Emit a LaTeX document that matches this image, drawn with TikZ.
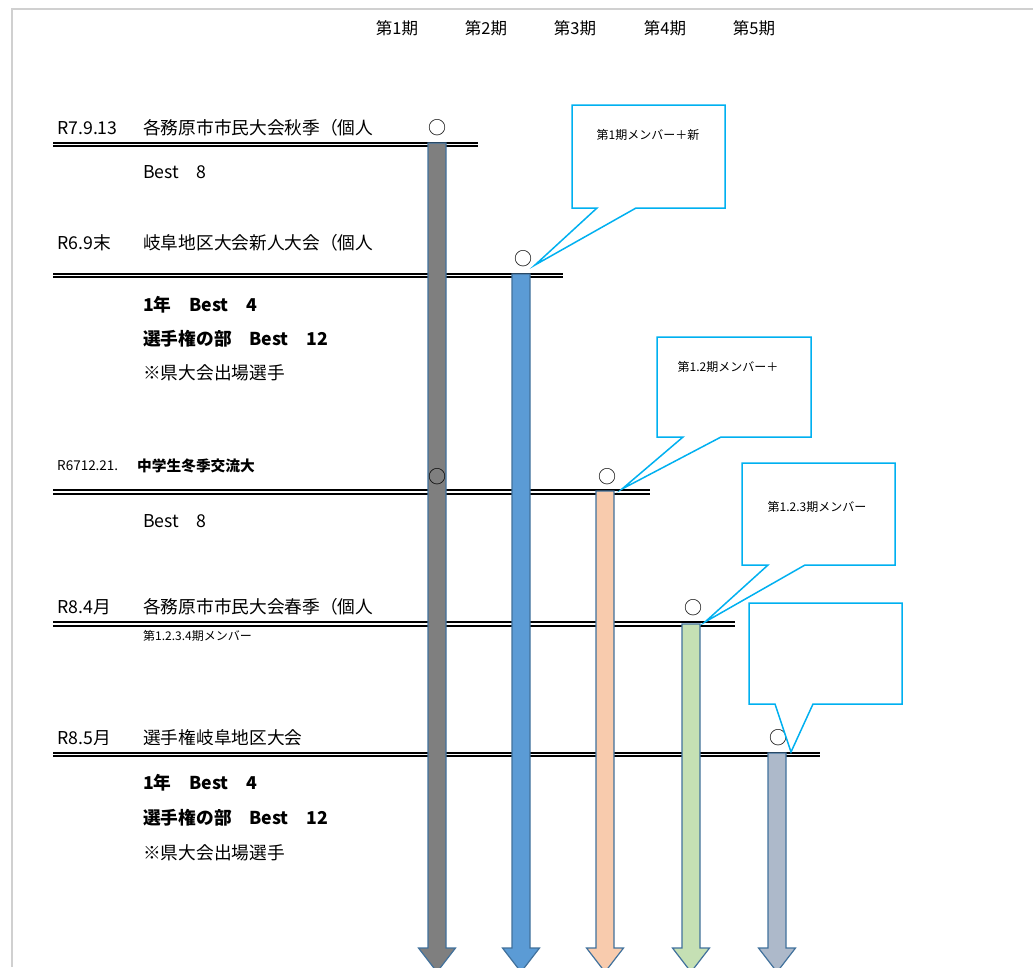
\documentclass[tikz,border=0pt]{standalone}
\usepackage{fontspec}
\setmainfont{Noto Sans CJK JP}
\definecolor{framegray}{RGB}{208,208,208}
\definecolor{arrline}{RGB}{65,113,156}
\definecolor{callcyan}{RGB}{0,176,240}
\definecolor{fillgray}{RGB}{127,127,127}
\definecolor{fillblue}{RGB}{91,155,213}
\definecolor{fillpeach}{RGB}{248,203,173}
\definecolor{fillgreen}{RGB}{197,224,180}
\definecolor{fillslate}{RGB}{173,185,202}

\begin{document}
\begin{tikzpicture}[x=1pt, y=-1pt,
    txt/.style={anchor=west, inner sep=0pt, font=\fontsize{17.7}{20}\selectfont},
    boldtxt/.style={anchor=west, inner sep=0pt, font=\fontsize{17.7}{20}\selectfont\bfseries},
    small/.style={anchor=west, inner sep=0pt, font=\fontsize{12}{14}\selectfont},
    rule/.style={double, double distance=1.8pt, line width=1.8pt},
    arr/.style={draw=arrline, line width=1.2pt, line join=miter},
    callout/.style={draw=callcyan, line width=1.5pt, fill=white, line join=miter},
    ring/.style={inner sep=0pt, font=\fontsize{18}{20}\selectfont}]
    \useasboundingbox (0,0) rectangle (1033,967);

    % Page frame
    \draw[framegray, line width=2pt] (12,967) -- (12,9) -- (1033,9);

    % Header
    \node[font=\fontsize{16.5}{18}\selectfont] (hd1) at (397,28) {第1期};
    \node[font=\fontsize{16.5}{18}\selectfont] (hd2) at (486,28) {第2期};
    \node[font=\fontsize{16.5}{18}\selectfont] (hd3) at (575,28) {第3期};
    \node[font=\fontsize{16.5}{18}\selectfont] (hd4) at (665,28) {第4期};
    \node[font=\fontsize{16.5}{18}\selectfont] (hd5) at (754,28) {第5期};

    % Event lines
    \draw[rule] (53,144.5) -- (478,144.5);
    \draw[rule] (53,275.5) -- (563,275.5);
    \draw[rule] (53,492) -- (650,492);
    \draw[rule] (53,624) -- (735,624);
    \draw[rule] (53,754.5) -- (820,754.5);

    % Event 1
    \node[txt] (d1) at (57,128) {R7.9.13};
    \node[txt] (e1) at (143,128) {各務原市市民大会秋季（個人};
    \node[txt] (r1) at (143,172) {Best　8};

    % Event 2
    \node[txt] (d2) at (57,243) {R6.9末};
    \node[txt] (e2) at (143,243) {岐阜地区大会新人大会（個人};
    \node[boldtxt] (r2a) at (143,305) {1年　Best　4};
    \node[boldtxt] (r2b) at (143,339) {選手権の部　Best　12};
    \node[txt] (r2c) at (143,373) {※県大会出場選手};

    % Event 3
    \node[anchor=west, inner sep=0pt, font=\fontsize{13.5}{15}\selectfont] (d3) at (57,466) {R6712.21.};
    \node[anchor=west, inner sep=0pt, font=\fontsize{14.7}{16}\selectfont\bfseries] (e3) at (137,466) {中学生冬季交流大};
    \node[txt] (r3) at (143,521) {Best　8};

    % Event 4
    \node[txt] (d4) at (57,607) {R8.4月};
    \node[txt] (e4) at (143,607) {各務原市市民大会春季（個人};
    \node[small] (r4) at (143,636) {第1.2.3.4期メンバー};

    % Event 5 (text box cut at the bottom)
    \begin{scope}
        \clip (50,720) rectangle (420,744);
        \node[txt] (d5) at (57,738) {R8.5月};
        \node[txt] (e5) at (143,738) {選手権岐阜地区大会};
    \end{scope}
    \node[boldtxt] (r5a) at (143,783) {1年　Best　4};
    \node[boldtxt] (r5b) at (143,818) {選手権の部　Best　12};
    \node[txt] (r5c) at (143,853) {※県大会出場選手};

    % Term arrows
    \foreach \cx/\ty/\col in {437/143/fillgray, 521/274/fillblue, 605/491/fillpeach, 691/624/fillgreen, 777/753/fillslate}{
        \draw[arr, fill=\col] ({\cx-9},\ty) -- ({\cx+9},\ty) -- ({\cx+9},948) -- ({\cx+18.5},948)
            -- (\cx,972) -- ({\cx-18.5},948) -- ({\cx-9},948) -- cycle;
    }

    % Marks
    \node[ring] (o1) at (437,128) {○};
    \node[ring] (o2) at (523,259) {○};
    \node[ring] (o3) at (437,477) {○};
    \node[ring] (o4) at (607,477) {○};
    \node[ring] (o5) at (693,608) {○};
    \node[ring] (o6) at (778,738) {○};

    % Callouts
    \coordinate (tip1) at (535,265);
    \coordinate (tip2) at (622,489);
    \coordinate (tip3) at (705,622);
    \coordinate (tip4) at (791,752);
    \draw[callout] (572,105) -- (725,105) -- (725,208) -- (636,208) -- (tip1) -- (597,208) -- (572,208) -- cycle;
    \node[font=\fontsize{12}{14}\selectfont] (m1) at (648,135) {第1期メンバー＋新};
    \draw[callout] (657,337) -- (811,337) -- (811,437) -- (721,437) -- (tip2) -- (683,437) -- (657,437) -- cycle;
    \node[font=\fontsize{12}{14}\selectfont] (m2) at (728,367) {第1.2期メンバー＋};
    \draw[callout] (742,463) -- (895,463) -- (895,565) -- (805,565) -- (tip3) -- (768,565) -- (742,565) -- cycle;
    \node[font=\fontsize{12}{14}\selectfont] (m3) at (817,507) {第1.2.3期メンバー};
    \draw[callout] (749,603) -- (902,603) -- (902,704) -- (813,704) -- (tip4) -- (775,704) -- (749,704) -- cycle;
\end{tikzpicture}
\end{document}
